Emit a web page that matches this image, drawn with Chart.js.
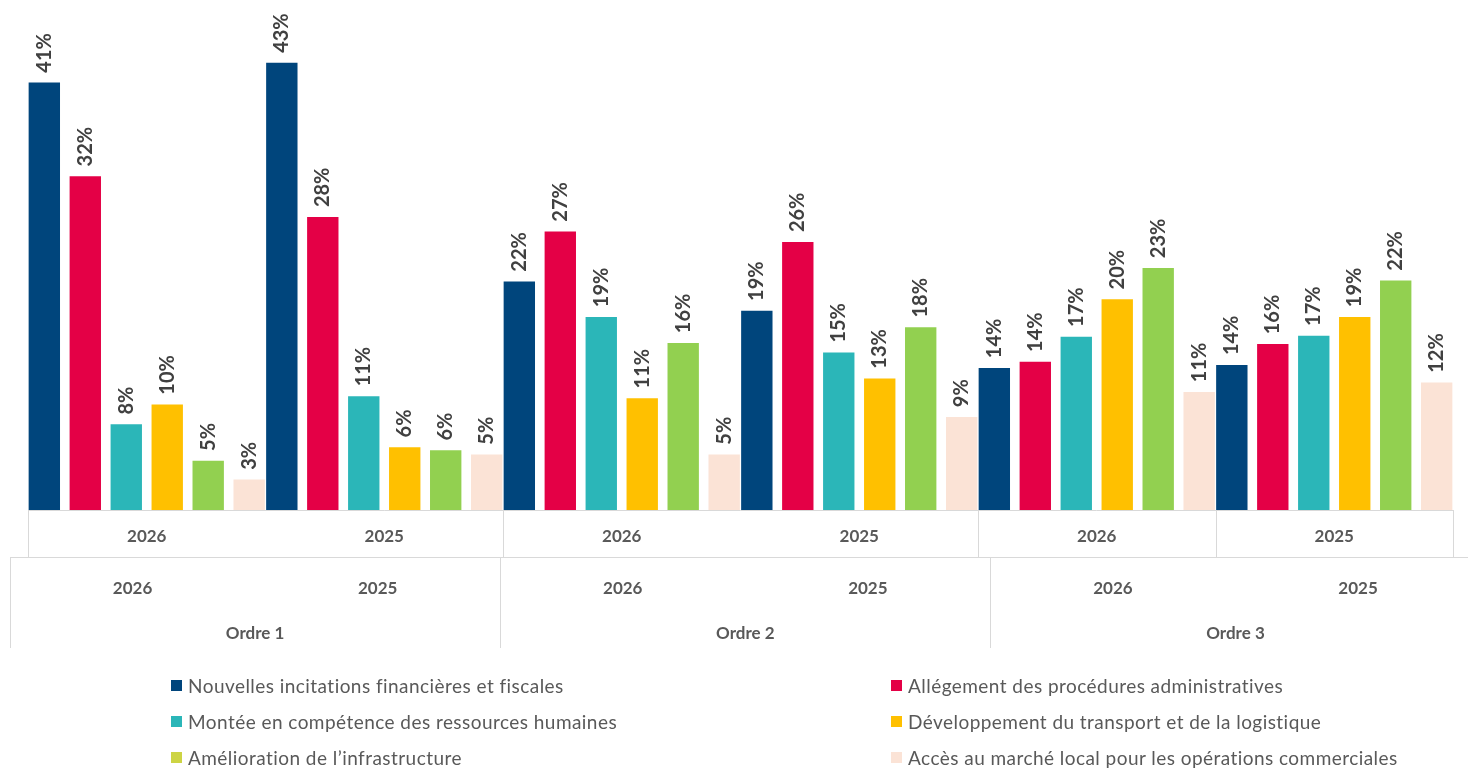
<!DOCTYPE html>
<html>
<head>
<meta charset="utf-8">
<script src="https://cdn.jsdelivr.net/npm/chart.js@4/dist/chart.umd.min.js"></script>
<style>
  body { margin: 0; background: #fff; }
  #wrap { position: relative; width: 1468px; height: 770px; }
  #legend {
    position: absolute; left: 171px; top: 667px;
    display: grid; grid-template-columns: 720px 560px; grid-auto-rows: 36px;
    font-family: Lato, sans-serif; font-size: 19px; letter-spacing: 0.45px; color: #595959;
  }
  .item { display: flex; align-items: center; white-space: nowrap; }
  .sw { width: 11px; height: 11px; margin-right: 6px; flex: none; }
</style>
</head>
<body>
<div id="wrap">
  <canvas id="chart" width="1468" height="770"></canvas>
  <div id="legend"></div>
</div>
<script>
// categories: year inside each "Ordre"
const categories = ["2026", "2025", "2026", "2025", "2026", "2025"];
const orders = ["Ordre 1", "Ordre 2", "Ordre 3"];

const seriesNames = [
  "Nouvelles incitations financières et fiscales",
  "Allégement des procédures administratives",
  "Montée en compétence des ressources humaines",
  "Développement du transport et de la logistique",
  "Amélioration de l’infrastructure",
  "Accès au marché local pour les opérations commerciales"
];

// values in %
const incitations = [41.1, 43.0, 22.0, 19.2, 13.7, 14.0];
const procedures = [32.1, 28.2, 26.8, 25.8, 14.3, 16.0];
const competences = [8.3, 11.0, 18.6, 15.2, 16.7, 16.8];
const transport = [10.2, 6.1, 10.8, 12.7, 20.3, 18.6];
const infrastructure = [4.8, 5.8, 16.1, 17.6, 23.3, 22.1];
const marche = [3.0, 5.4, 5.4, 9.0, 11.4, 12.3];

const barColors = ["#00457c", "#e40046", "#2bb6b8", "#ffc000", "#92d050", "#fbe3d6"];
const legendColors = ["#00457c", "#e40046", "#2bb6b8", "#ffc000", "#cdd444", "#fbe3d6"];

const allValues = [incitations, procedures, competences, transport, infrastructure, marche];

const datasets = allValues.map((vals, i) => ({
  label: seriesNames[i],
  data: vals,
  backgroundColor: barColors[i],
  borderColor: "#ffffff",
  borderWidth: 0.8,
  categoryPercentage: 1.035,
  barPercentage: 0.805
}));

// rotated percentage labels above the bars
const barLabels = {
  id: "barLabels",
  afterDatasetsDraw(chart) {
    const ctx = chart.ctx;
    ctx.save();
    ctx.font = "bold 20px Lato, sans-serif";
    ctx.fillStyle = "#404040";
    ctx.textAlign = "left";
    ctx.textBaseline = "middle";
    chart.data.datasets.forEach((ds, di) => {
      chart.getDatasetMeta(di).data.forEach((bar, i) => {
        ctx.save();
        ctx.translate(bar.x, bar.y - 9);
        ctx.rotate(-Math.PI / 2);
        ctx.fillText(Math.round(ds.data[i]) + "%", 0, 0);
        ctx.restore();
      });
    });
    ctx.restore();
  }
};

// the boxed category axis under the bars
const boxAxis = {
  id: "boxAxis",
  afterDraw(chart) {
    const ctx = chart.ctx;
    const area = chart.chartArea;
    const xs = chart.scales.x;
    const y0 = area.bottom, y1 = y0 + 47, y2 = y0 + 138;
    const half = (xs.getPixelForValue(1) - xs.getPixelForValue(0)) / 2;
    ctx.save();
    ctx.strokeStyle = "#d9d9d9";
    ctx.lineWidth = 1;
    ctx.beginPath();
    ctx.moveTo(area.left, y0 + 0.5); ctx.lineTo(area.right, y0 + 0.5);
    ctx.moveTo(area.left, y1 + 0.5); ctx.lineTo(area.right, y1 + 0.5);
    // first row dividers
    [0, 2, 4, 5, 6].forEach(k => {
      const x = Math.round(xs.getPixelForValue(0) - half + k * half * 2) + 0.5;
      ctx.moveTo(x, y0); ctx.lineTo(x, y1);
    });
    // second block (year + ordre)
    const secStart = area.left - 18;
    const secW = area.width / 3 * 1.032;
    ctx.moveTo(secStart, y1 + 0.5); ctx.lineTo(chart.width, y1 + 0.5);
    for (let s = 0; s < 3; s++) {
      const x = Math.round(secStart + s * secW) + 0.5;
      ctx.moveTo(x, y1); ctx.lineTo(x, y2);
    }
    ctx.stroke();

    ctx.fillStyle = "#595959";
    ctx.font = "bold 17px Lato, sans-serif";
    ctx.textAlign = "center";
    ctx.textBaseline = "middle";
    categories.forEach((c, i) => {
      ctx.fillText(c, xs.getPixelForValue(i), y0 + 27);
    });
    orders.forEach((o, s) => {
      const sx = secStart + s * secW;
      ctx.fillText(categories[s * 2], sx + secW * 0.25, y0 + 79);
      ctx.fillText(categories[s * 2 + 1], sx + secW * 0.75, y0 + 79);
      ctx.fillText(o, sx + secW * 0.5, y0 + 124);
    });
    ctx.restore();
  }
};

new Chart(document.getElementById("chart"), {
  type: "bar",
  data: { labels: categories, datasets: datasets },
  options: {
    responsive: false,
    animation: false,
    layout: { padding: { left: 28, right: 15, top: 41, bottom: 260 } },
    scales: {
      x: { display: false },
      y: { display: false, min: 0, max: 45 }
    },
    plugins: { legend: { display: false }, tooltip: { enabled: false } }
  },
  plugins: [barLabels, boxAxis]
});

// legend in two columns
const legend = document.getElementById("legend");
seriesNames.forEach((name, i) => {
  const item = document.createElement("div");
  item.className = "item";
  const sw = document.createElement("span");
  sw.className = "sw";
  sw.style.background = legendColors[i];
  const tx = document.createElement("span");
  tx.textContent = name;
  item.appendChild(sw);
  item.appendChild(tx);
  legend.appendChild(item);
});
</script>
</body>
</html>
